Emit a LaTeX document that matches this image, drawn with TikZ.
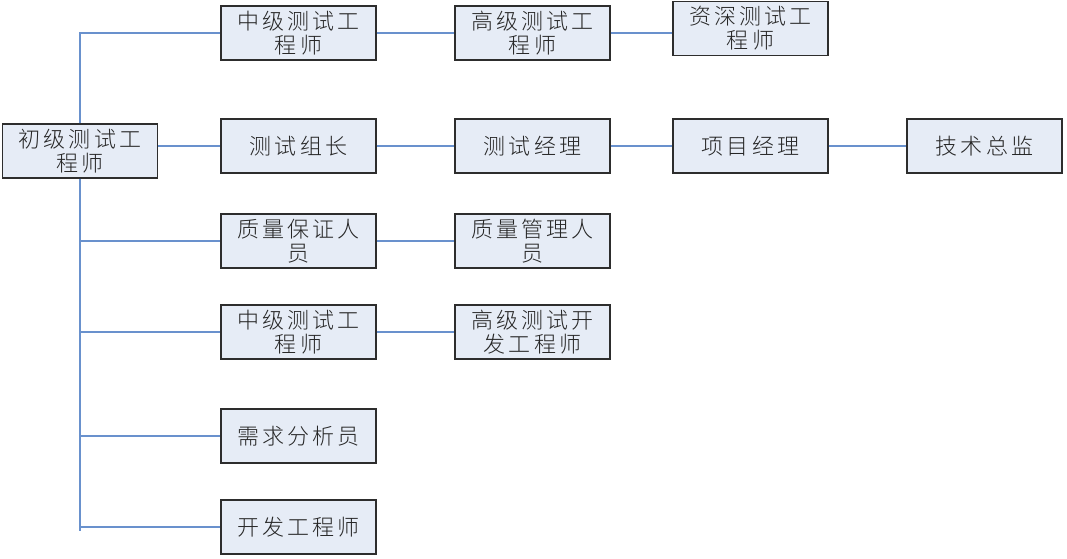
\documentclass[tikz,border=0pt]{standalone}
\usepackage{fontspec}
\newfontfamily\cjk[LetterSpace=14]{Noto Sans CJK SC Light}
\definecolor{linec}{RGB}{105,145,205}
\definecolor{boxfill}{RGB}{230,236,246}
\definecolor{boxline}{RGB}{45,45,45}
\begin{document}
\begin{tikzpicture}[x=1pt,y=-1pt,
  role/.style={draw=boxline,line width=1.1pt,fill=boxfill,minimum width=155pt,minimum height=54pt,
    inner sep=0pt,align=center,font=\cjk\fontsize{22}{24}\selectfont,text=black!85},
  conn/.style={draw=linec,line width=1.1pt}]
\useasboundingbox (0,0) rectangle (1067,558);
\node[role] (init) at (80,151) {初级测试工\\程师};
\node[role] (m1) at (298.5,33) {中级测试工\\程师};
\node[role] (lead) at (298.5,146) {测试组长};
\node[role] (qa) at (298.5,241) {质量保证人\\员};
\node[role] (m2) at (298.5,332) {中级测试工\\程师};
\node[role] (req) at (298.5,436) {需求分析员};
\node[role] (dev) at (298.5,527) {开发工程师};
\node[role] (h1) at (532.5,33) {高级测试工\\程师};
\node[role] (tm) at (532.5,146) {测试经理};
\node[role] (qm) at (532.5,241) {质量管理人\\员};
\node[role] (h2) at (532.5,332) {高级测试开\\发工程师};
\node[role] (sr) at (750.5,28.5) {资深测试工\\程师};
\node[role] (pm) at (750.5,146) {项目经理};
\node[role] (cto) at (984.5,146) {技术总监};
\coordinate (top) at (80,33);
\coordinate (bot) at (80,531);
\draw[conn] (init.north) -- (top) -- (m1.west);
\draw[conn] (init.east |- lead.west) -- (lead.west);
\draw[conn] (init.south) -- (bot);
\draw[conn] (bot |- qa.west) -- (qa.west);
\draw[conn] (bot |- m2.west) -- (m2.west);
\draw[conn] (bot |- req.west) -- (req.west);
\draw[conn] (bot |- dev.west) -- (dev.west);
\draw[conn] (m1.east) -- (h1.west);
\draw[conn] (h1.east) -- (h1.east -| sr.west);
\draw[conn] (lead.east) -- (tm.west);
\draw[conn] (tm.east) -- (pm.west);
\draw[conn] (pm.east) -- (cto.west);
\draw[conn] (qa.east) -- (qm.west);
\draw[conn] (m2.east) -- (h2.west);
\end{tikzpicture}
\end{document}
